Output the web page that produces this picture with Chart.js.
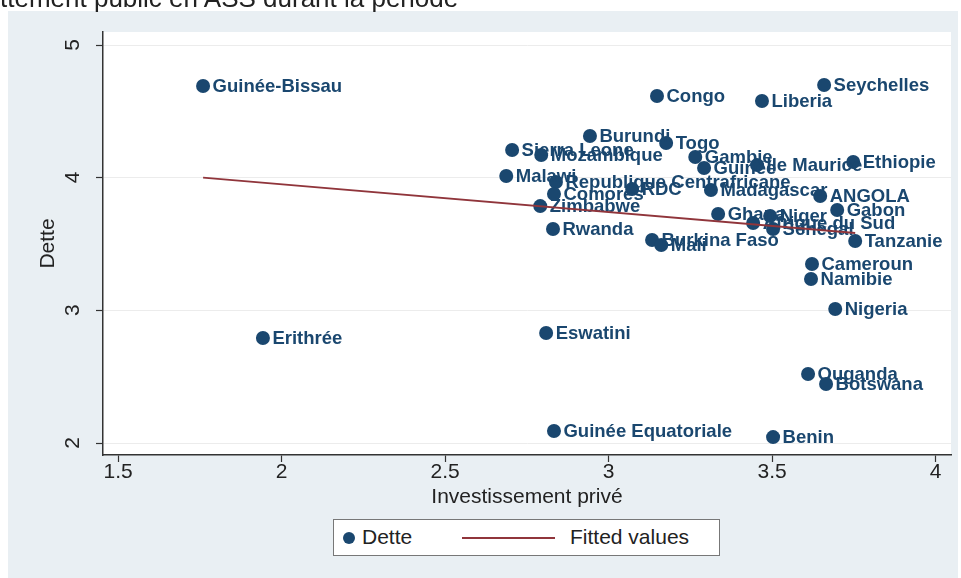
<!DOCTYPE html>
<html>
<head>
<meta charset="utf-8">
<script src="https://cdn.jsdelivr.net/npm/chart.js@4"></script>
<style>
  html, body { margin: 0; padding: 0; background: #fff; }
  body { width: 961px; height: 578px; position: relative; overflow: hidden; font-family: "Liberation Sans", Arial, sans-serif; }
  #topText { position: absolute; left: 0; top: -15px; font-size: 26px; line-height: 26px; color: #222; white-space: nowrap; z-index: 2; }
  #chart { position: absolute; left: 0; top: 0; }
  #legend { position: absolute; left: 333px; top: 519px; width: 385px; height: 35px; background: #fff; border: 1px solid #777; font-size: 21px; color: #222; }
  #legend span { position: absolute; }
  .dot { width: 12px; height: 12px; border-radius: 6px; background: #1a476f; left: 9px; top: 12px; }
  .fit { height: 2px; background: #90353b; left: 128px; top: 17px; width: 93px; }
</style>
</head>
<body>
<div id="topText">ttement public en ASS durant la période</div>
<canvas id="chart" width="961" height="578"></canvas>
<div id="legend">
  <span class="dot"></span>
  <span style="left:28px; top:5px;">Dette</span>
  <span class="fit"></span>
  <span style="left:236px; top:5px;">Fitted values</span>
</div>
<script>
// Pays (étiquettes des points)
const countries = [
  "Guinée-Bissau", "Erithrée", "Congo", "Seychelles", "Liberia", "Burundi", "Togo",
  "Sierra Leone", "Mozambique", "Gambie", "Guinée", "Ile Maurice", "Ethiopie", "Malawi",
  "Republique Centrafricane", "Comores", "RDC", "Madagascar", "ANGOLA", "Gabon", "Zimbabwe",
  "Ghana", "Niger", "Afrique du Sud", "Senegal", "Rwanda", "Burkina Faso", "Mali", "Tanzanie",
  "Cameroun", "Namibie", "Nigeria", "Ouganda", "Botswana", "Benin", "Eswatini", "Guinée Equatoriale"
];

// Investissement privé (x)
const investX = [
  1.760, 1.943, 3.148, 3.659, 3.469, 2.943, 3.176,
  2.705, 2.794, 3.265, 3.292, 3.454, 3.748, 2.687,
  2.839, 2.833, 3.072, 3.313, 3.647, 3.699, 2.791,
  3.335, 3.494, 3.442, 3.503, 2.830, 3.133, 3.161, 3.754,
  3.622, 3.619, 3.693, 3.610, 3.665, 3.503, 2.809, 2.833
];

// Dette (y)
const detteY = [
  4.691, 2.792, 4.616, 4.698, 4.578, 4.314, 4.261,
  4.209, 4.171, 4.156, 4.073, 4.095, 4.118, 4.013,
  3.967, 3.877, 3.915, 3.907, 3.862, 3.756, 3.786,
  3.726, 3.711, 3.658, 3.613, 3.613, 3.530, 3.492, 3.523,
  3.349, 3.236, 3.010, 2.520, 2.445, 2.045, 2.829, 2.091
];

// Fitted values (extrémités de la droite)
const fitX = [1.760, 3.754];
const fitY = [4.000, 3.583];

// Graduations
const xTicks = [1.5, 2, 2.5, 3, 3.5, 4];
const xTickLabels = ["1.5", "2", "2.5", "3", "3.5", "4"];
const yTicks = [2, 3, 4, 5];
const yTickLabels = ["2", "3", "4", "5"];

const navy = "#1a476f";
const red = "#90353b";

const scatterData = investX.map((x, i) => ({ x: x, y: detteY[i] }));
const fitData = fitX.map((x, i) => ({ x: x, y: fitY[i] }));

const backgrounds = {
  id: "backgrounds",
  beforeDraw(chart) {
    const ctx = chart.ctx;
    const a = chart.chartArea;
    ctx.save();
    ctx.fillStyle = "#e9eff3";
    ctx.fillRect(8, 11, 950, 567);
    ctx.fillStyle = "#ffffff";
    ctx.fillRect(a.left, a.top, a.right - a.left, a.bottom - a.top);
    ctx.restore();
  }
};

// étiquettes à droite des points (mlabel)
const pointLabels = {
  id: "pointLabels",
  afterDatasetDraw(chart, args) {
    if (args.index !== 0) return;
    const ctx = chart.ctx;
    ctx.save();
    ctx.font = "bold 18.5px 'Liberation Sans', Arial, sans-serif";
    ctx.fillStyle = navy;
    ctx.textAlign = "left";
    ctx.textBaseline = "middle";
    args.meta.data.forEach((pt, i) => {
      ctx.fillText(countries[i], pt.x + 9.5, pt.y + 1);
    });
    ctx.restore();
  }
};

new Chart(document.getElementById("chart"), {
  type: "scatter",
  data: {
    datasets: [
      {
        label: "Dette",
        data: scatterData,
        backgroundColor: navy,
        borderColor: navy,
        pointRadius: 7,
        pointHoverRadius: 7,
        borderWidth: 0,
        order: 1
      },
      {
        type: "line",
        label: "Fitted values",
        data: fitData,
        borderColor: red,
        borderWidth: 1.8,
        pointRadius: 0,
        fill: false,
        order: 0
      }
    ]
  },
  options: {
    responsive: false,
    animation: false,
    layout: { padding: { top: 32, right: 10, bottom: 68, left: 0 } },
    plugins: {
      legend: { display: false },
      tooltip: { enabled: false }
    },
    scales: {
      x: {
        type: "linear",
        min: 1.454,
        max: 4.047,
        afterBuildTicks: (scale) => { scale.ticks = xTicks.map(v => ({ value: v })); },
        afterFit: (scale) => {
          scale.height = 55;
          scale.paddingLeft = 0;
          scale.paddingRight = 0;
        },
        ticks: {
          callback: (v, i) => xTickLabels[i],
          font: { size: 21, family: "'Liberation Sans', Arial, sans-serif" },
          color: "#222",
          padding: -2,
          maxRotation: 0,
          autoSkip: false
        },
        grid: { drawOnChartArea: false, tickLength: 7, tickColor: "#333", tickWidth: 1.2 },
        border: { color: "#333", width: 1.5 },
        title: {
          display: true,
          text: "Investissement privé",
          font: { size: 21, family: "'Liberation Sans', Arial, sans-serif" },
          color: "#222",
          padding: 0
        }
      },
      y: {
        type: "linear",
        min: 1.910,
        max: 5.098,
        afterBuildTicks: (scale) => { scale.ticks = yTicks.map(v => ({ value: v })); },
        afterFit: (scale) => {
          scale.width = 103;
          scale.paddingTop = 0;
          scale.paddingBottom = 0;
        },
        ticks: {
          callback: (v, i) => yTickLabels[i],
          font: { size: 21, family: "'Liberation Sans', Arial, sans-serif" },
          color: "#222",
          padding: 23,
          minRotation: 90,
          maxRotation: 90,
          labelOffset: -6,
          autoSkip: false
        },
        grid: { color: "#ececec", lineWidth: 1, tickLength: 7, tickColor: "#333", tickWidth: 1.2 },
        border: { color: "#333", width: 1.5 },
        title: {
          display: true,
          text: "Dette",
          font: { size: 21, family: "'Liberation Sans', Arial, sans-serif" },
          color: "#222",
          padding: { top: 36, bottom: 0 }
        }
      }
    }
  },
  plugins: [backgrounds, pointLabels]
});
</script>
</body>
</html>
